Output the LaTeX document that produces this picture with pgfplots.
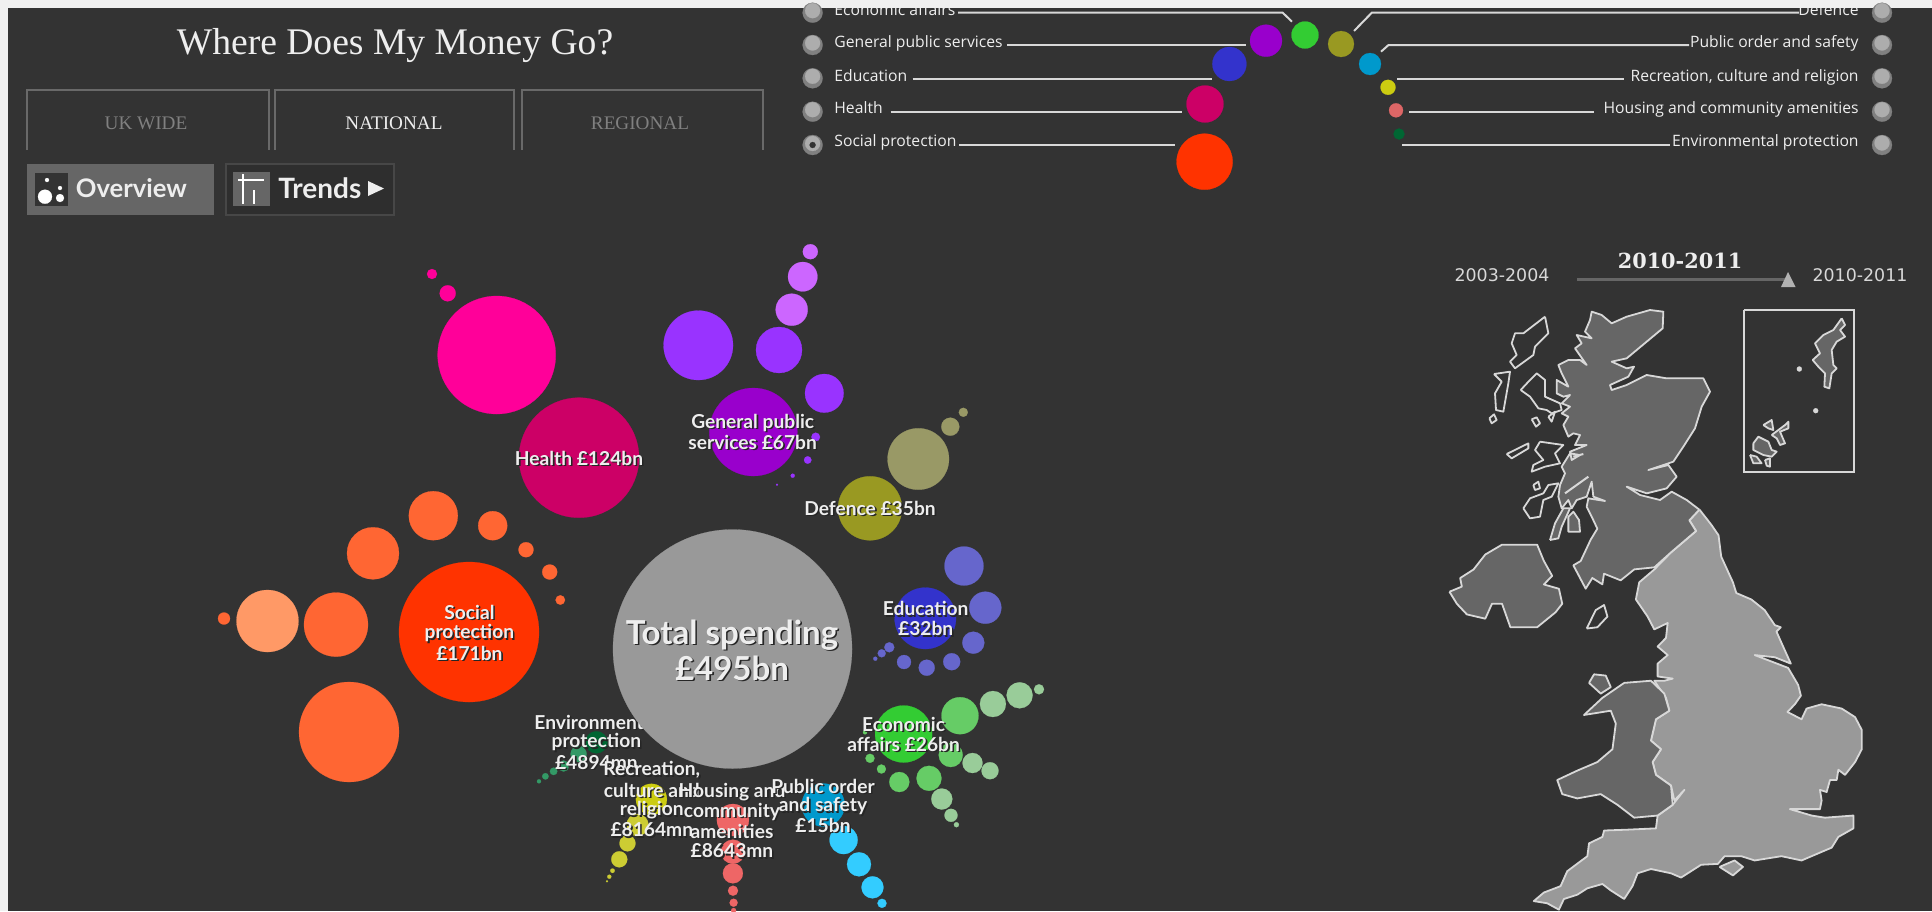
\documentclass[border=0pt]{standalone}
\usepackage{pgfplots}
\usepackage{fontspec}
\usetikzlibrary{plotmarks}
\pgfplotsset{compat=1.18}
\setmainfont{Liberation Serif}
\newfontfamily\gill{Lato}
\newfontfamily\leg{Open Sans}
\newfontfamily\dvs{DejaVu Sans}
\newfontfamily\dvsf{DejaVu Serif}
\definecolor{bg}{HTML}{333333}
\definecolor{strip}{HTML}{F0F0F0}
\definecolor{txt}{HTML}{EEEEEE}
\definecolor{shad}{HTML}{262626}
\definecolor{mapl}{HTML}{D8D8D8}
\definecolor{C1}{HTML}{33CC33}
\definecolor{C2}{HTML}{999922}
\definecolor{C3}{HTML}{9900CC}
\definecolor{C4}{HTML}{0099CC}
\definecolor{C5}{HTML}{CCCC11}
\definecolor{C6}{HTML}{DD6666}
\definecolor{C7}{HTML}{006633}
\definecolor{C8}{HTML}{3333CC}
\definecolor{C9}{HTML}{CC0066}
\definecolor{C10}{HTML}{FF3300}
\definecolor{H2}{HTML}{FF0099}
\definecolor{S2}{HTML}{FF6633}
\definecolor{S3}{HTML}{FF9966}
\definecolor{G2}{HTML}{9933FF}
\definecolor{G3}{HTML}{CC66FF}
\definecolor{D2}{HTML}{999966}
\definecolor{E2}{HTML}{6666CC}
\definecolor{F2}{HTML}{66CC66}
\definecolor{F3}{HTML}{99CC99}
\definecolor{P2}{HTML}{33CCFF}
\definecolor{A2}{HTML}{EE6666}
\definecolor{R2}{HTML}{CCCC33}
\definecolor{V2}{HTML}{339966}
\definecolor{M1}{HTML}{999999}
\definecolor{M2}{HTML}{666666}
\newcommand{\lbl}[4]{%
  \addplot[only marks,mark=text,text mark={\gill\bfseries\fontsize{#3}{#3}\selectfont #4},text mark as node=true,
    text mark style={anchor=center,inner sep=0pt,text=shad,xshift=0.8pt,yshift=-0.8pt}] coordinates {(#1,#2)};
  \addplot[only marks,mark=text,text mark={\gill\bfseries\fontsize{#3}{#3}\selectfont #4},text mark as node=true,
    text mark style={anchor=center,inner sep=0pt,text=txt}] coordinates {(#1,#2)};}
\newcommand{\legL}[3]{\node[anchor=west,inner sep=0pt,text=txt,text height=6pt,text depth=2pt] at (axis cs:#1,#2-0.5) {\leg\fontsize{7.85}{7.85}\selectfont #3};}
\newcommand{\legR}[3]{\node[anchor=east,inner sep=0pt,text=txt,text height=6pt,text depth=2pt] at (axis cs:#1,#2-0.5) {\leg\fontsize{7.85}{7.85}\selectfont #3};}
\pgfplotsset{
  bub/.style={scatter,only marks,mark=*,
    scatter/use mapped color={draw=#1,fill=#1,line width=0.1pt},
    visualization depends on={\thisrow{r}/2 \as \rad},
    scatter/@pre marker code/.append style={/tikz/mark size=\rad}},
  table/mapt/.style={header=false,row sep=\\,x expr=1420+\thisrowno{0}/2.988,y expr=240+\thisrowno{1}/2.337},
  table/scot/.style={header=false,row sep=\\,x expr=1480+\thisrowno{0}/3,y expr=300+\thisrowno{1}/3},
  table/ins/.style={header=false,row sep=\\,x expr=1730+\thisrowno{0}/3,y expr=300+\thisrowno{1}/3},
  mp/.style={fill=#1,draw=mapl,line width=0.9pt,line join=round,no markers},
  ln/.style={draw=#1,line width=1pt,no markers},
}
\begin{document}
\begin{tikzpicture}
\fill[strip] (0,0) rectangle (966pt,455.5pt);
\fill[bg] (4pt,0pt) rectangle (966pt,451.5pt);
\useasboundingbox (0,0) rectangle (966pt,455.5pt);
\begin{axis}[at={(4pt,0pt)},anchor=south west,scale only axis,width=962pt,height=451.5pt,xmin=8,xmax=1932,ymin=8,ymax=911,
  y dir=reverse,hide axis,clip=true]

% title and tabs
\node[text=txt,inner sep=0pt] at (axis cs:395,45.5) {\fontsize{18.8}{18.8}\selectfont Where Does My Money Go?};
\addplot[ln=gray!70!bg] coordinates {(26.5,150)(26.5,89.5)(269,89.5)(269,150)};
\addplot[ln=gray!70!bg] coordinates {(274.5,150)(274.5,89.5)(514,89.5)(514,150)};
\addplot[ln=gray!70!bg] coordinates {(521.5,150)(521.5,89.5)(763,89.5)(763,150)};
\node[text=gray,inner sep=0pt] at (axis cs:146,123.5) {\fontsize{9.6}{9.6}\selectfont UK WIDE};
\node[text=txt,inner sep=0pt] at (axis cs:394,123.5) {\fontsize{9.6}{9.6}\selectfont NATIONAL};
\node[text=gray,inner sep=0pt] at (axis cs:640,123.5) {\fontsize{9.6}{9.6}\selectfont REGIONAL};

% buttons
\fill[fill=black!60!white] (axis cs:26.5,164) rectangle (axis cs:214,215);
\fill[bg] (axis cs:34.7,172.7) rectangle (axis cs:68,206);
\addplot[bub=white] table[row sep=\\] {x y r\\ 45 196.7 7\\ 60 198 4\\ 60 188 2\\ 47 180 2\\};
\node[text=txt,anchor=west,inner sep=0pt] at (axis cs:75.5,188) {\gill\bfseries\fontsize{12.8}{12.8}\selectfont Overview};
\draw[black!72!white,fill=black!82!white,line width=0.8pt] (axis cs:226,164) rectangle (axis cs:394,215);
\fill[black!60!white] (axis cs:233,172) rectangle (axis cs:270,206);
\addplot[ln=white] coordinates {(238,180)(264,180)};
\addplot[ln=white] coordinates {(243,174)(243,204)};
\addplot[ln=white] coordinates {(254,190)(254,204)};
\node[text=txt,anchor=west,inner sep=0pt] at (axis cs:278,188) {\gill\bfseries\fontsize{14}{14}\selectfont Trends};
\addplot[fill=txt,draw=none,no markers] coordinates {(368,181)(384,188.5)(368,196)(368,181)};

% selector lines
\addplot[ln=mapl] coordinates {(958,12.7)(1282.7,12.7)(1292,21.7)};
\addplot[ln=mapl] coordinates {(1006.8,45)(1246,45)};
\addplot[ln=mapl] coordinates {(912.6,79)(1212,79)};
\addplot[ln=mapl] coordinates {(890.7,111.7)(1182,111.7)};
\addplot[ln=mapl] coordinates {(959,145)(1175,145)};
\addplot[ln=mapl] coordinates {(1798.8,12.7)(1371.8,12.7)(1354,31)};
\addplot[ln=mapl] coordinates {(1689,45)(1388.5,45)(1381,51.7)};
\addplot[ln=mapl] coordinates {(1623.6,79)(1397,79)};
\addplot[ln=mapl] coordinates {(1594,111.7)(1409,111.7)};
\addplot[ln=mapl] coordinates {(1669.6,145)(1401.7,145)};
% selector radio buttons
\addplot[bub=black!50!white] table[row sep=\\] {x y r\\
812.6 12.7 10\\ 812.6 45 10\\ 812.6 78.3 10\\ 812.6 111.7 10\\ 812.6 145 10\\
1882 12.7 10\\ 1882 45 10\\ 1882 78.3 10\\ 1882 111.7 10\\ 1882 145 10\\};
\addplot[bub=black!32!white] table[row sep=\\] {x y r\\
812.6 10.7 7.5\\ 812.6 43 7.5\\ 812.6 76.3 7.5\\ 812.6 109.7 7.5\\ 812.6 143.5 7.5\\
1882 10.7 7.5\\ 1882 43 7.5\\ 1882 76.3 7.5\\ 1882 109.7 7.5\\ 1882 143 7.5\\};
\addplot[bub=bg] table[row sep=\\] {x y r\\ 812.6 145 3\\};
% selector labels
\legL{834}{11.7}{Economic affairs}
\legL{834}{44.3}{General public services}
\legL{834}{77.7}{Education}
\legL{834}{110}{Health}
\legL{834}{143}{Social protection}
\legR{1859}{11.7}{Defence}
\legR{1859}{44.3}{Public order and safety}
\legR{1859}{77.7}{Recreation, culture and religion}
\legR{1859}{110}{Housing and community amenities}
\legR{1859}{143}{Environmental protection}
% selector bubbles
\addplot[bub=C3] table[row sep=\\] {x y r\\ 1266 40.7 16\\};
\addplot[bub=C1] table[row sep=\\] {x y r\\ 1305 35 13.5\\};
\addplot[bub=C2] table[row sep=\\] {x y r\\ 1341 44 13\\};
\addplot[bub=C4] table[row sep=\\] {x y r\\ 1370 64 11\\};
\addplot[bub=C5] table[row sep=\\] {x y r\\ 1388 87.3 7.5\\};
\addplot[bub=C6] table[row sep=\\] {x y r\\ 1396 110.3 7\\};
\addplot[bub=C7] table[row sep=\\] {x y r\\ 1399 134 5.5\\};
\addplot[bub=C8] table[row sep=\\] {x y r\\ 1229.4 64 17\\};
\addplot[bub=C9] table[row sep=\\] {x y r\\ 1205 104 18.5\\};
\addplot[bub=C10] table[row sep=\\] {x y r\\ 1204.6 161.7 28\\};

% slider
\node[text=txt,inner sep=0pt] at (axis cs:1680,260.5) {\dvsf\bfseries\fontsize{10.4}{10.4}\selectfont 2010-2011};
\node[text=mapl,inner sep=0pt] at (axis cs:1502,275.5) {\dvs\fontsize{8.7}{8.7}\selectfont 2003-2004};
\node[text=mapl,inner sep=0pt] at (axis cs:1860,275.5) {\dvs\fontsize{8.7}{8.7}\selectfont 2010-2011};
\addplot[draw=black!60!white,line width=1.5pt,no markers] coordinates {(1577,279.4)(1788,279.4)};
\addplot[fill=black!30!white,draw=none,no markers] coordinates {(1788,272)(1795.5,287)(1781,287)(1788,272)};

% map: England
\addplot[mp=M1] table[mapt] {835 630\\870 665\\892 690\\900 740\\935 800\\945 825\\990 840\\1030 865\\1060 900\\1078 905\\1065 915\\1085 950\\1108 990\\1060 975\\1000 970\\1050 985\\1100 1000\\1130 1040\\1138 1065\\1120 1085\\1098 1103\\1140 1120\\1155 1095\\1200 1085\\1260 1095\\1300 1115\\1320 1145\\1320 1190\\1300 1220\\1270 1250\\1250 1238\\1245 1262\\1225 1262\\1215 1290\\1195 1285\\1200 1310\\1195 1330\\1105 1330\\1170 1345\\1210 1350\\1295 1345\\1295 1375\\1250 1395\\1230 1420\\1140 1450\\1080 1440\\1000 1450\\960 1440\\910 1440\\890 1458\\840 1460\\780 1490\\750 1480\\690 1470\\650 1480\\635 1510\\610 1540\\570 1520\\545 1505\\500 1515\\470 1530\\430 1540\\415 1565\\380 1550\\340 1545\\370 1525\\420 1510\\440 1475\\500 1440\\505 1410\\545 1395\\550 1380\\620 1378\\705 1375\\710 1345\\755 1320\\790 1285\\760 1310\\750 1275\\705 1250\\695 1220\\720 1190\\690 1170\\705 1120\\745 1100\\735 1070\\700 1030\\730 1030\\755 1025\\710 1020\\710 990\\740 970\\710 950\\735 930\\740 895\\700 910\\680 880\\645 840\\655 800\\700 770\\750 730\\825 680\\805 655\\835 630\\};
% Scotland
\addplot[mp=M2] table[scot] {658 629\\628 661\\648 693\\573 757\\523 802\\463 808\\422 841\\372 821\\367 853\\337 834\\317 866\\297 828\\280 796\\302 783\\332 719\\352 686\\335 650\\320 620\\325 595\\375 603\\340 590\\335 545\\320 590\\290 600\\275 625\\265 600\\245 625\\235 590\\240 555\\255 520\\245 500\\270 460\\300 465\\275 480\\270 455\\320 435\\285 435\\300 405\\280 400\\265 410\\250 375\\265 350\\245 340\\270 320\\245 310\\270 285\\250 290\\230 280\\230 240\\265 260\\245 220\\235 195\\265 180\\300 180\\320 195\\285 145\\305 130\\290 105\\335 115\\315 95\\330 60\\335 35\\365 45\\395 70\\440 50\\510 30\\550 35\\548 85\\500 125\\440 175\\395 185\\440 205\\462 200\\445 230\\390 255\\395 270\\440 255\\500 225\\560 235\\670 235\\690 275\\665 320\\645 385\\610 440\\580 485\\505 510\\565 495\\590 530\\560 565\\500 580\\440 560\\480 585\\540 600\\575 575\\620 600\\658 629\\};
\addplot[ln=mapl] table[scot] {255 580\\325 530\\};
\addplot[ln=mapl] table[scot] {280 470\\310 462\\};
\addplot[mp=bg] table[scot] {195 50\\205 100\\165 140\\160 165\\105 205\\90 185\\110 165\\95 130\\105 100\\130 100\\195 50\\};
\addplot[mp=bg] table[scot] {42 222\\90 215\\85 250\\70 335\\48 330\\45 280\\65 245\\42 222\\};
\addplot[mp=bg] table[scot] {28 355\\42 343\\50 360\\35 370\\28 355\\};
\addplot[mp=bg] table[scot] {122 270\\150 240\\170 220\\195 240\\195 290\\240 310\\245 330\\215 340\\200 330\\175 325\\150 290\\122 270\\};
\addplot[mp=bg] table[scot] {205 350\\225 335\\215 365\\205 350\\};
\addplot[mp=bg] table[scot] {155 358\\170 352\\180 370\\168 380\\155 358\\};
\addplot[mp=bg] table[scot] {80 462\\145 430\\145 445\\95 475\\80 462\\};
\addplot[mp=bg] table[scot] {180 425\\250 435\\225 460\\240 490\\195 500\\155 515\\160 495\\190 480\\165 450\\180 425\\};
\addplot[mp=bg] table[scot] {160 555\\175 545\\180 565\\165 570\\160 555\\};
\addplot[mp=bg] table[scot] {130 625\\150 595\\190 580\\205 555\\235 550\\215 590\\190 600\\180 650\\150 655\\130 625\\};
\addplot[mp=M2] table[scot] {210 720\\225 670\\250 625\\270 625\\245 680\\235 715\\210 720\\};
\addplot[mp=M2] table[scot] {265 650\\280 635\\297 660\\300 695\\265 695\\265 650\\};
% Northern Ireland
\addplot[mp=M2] table[mapt] {88 822\\125 810\\120 790\\160 770\\195 735\\245 712\\350 712\\370 750\\395 785\\370 805\\415 815\\425 850\\405 870\\350 905\\270 905\\245 850\\215 850\\195 885\\140 875\\110 850\\88 822\\};
% Isle of Man
\addplot[mp=bg] table[mapt] {498 908\\525 865\\550 853\\560 880\\530 905\\498 908\\};
% Anglesey
\addplot[mp=M2] table[mapt] {505 1035\\520 1015\\555 1018\\570 1045\\540 1060\\505 1035\\};
% Wales
\addplot[mp=M2] table[mapt] {610 1035\\690 1030\\730 1060\\745 1100\\705 1120\\690 1170\\720 1190\\695 1220\\705 1250\\750 1275\\755 1320\\710 1345\\640 1350\\590 1320\\540 1295\\470 1305\\425 1295\\410 1262\\470 1240\\530 1220\\575 1190\\585 1130\\570 1100\\490 1110\\545 1070\\610 1035\\};
% Isle of Wight
\addplot[mp=M1] table[mapt] {895 1465\\940 1450\\965 1465\\935 1485\\895 1465\\};
% inset
\addplot[fill=none,draw=mapl,line width=0.9pt,no markers] table[ins] {42 30\\372 30\\372 517\\42 517\\42 30\\};
\addplot[mp=M2] table[ins] {335 55\\345 75\\330 90\\345 110\\320 125\\305 150\\310 195\\320 205\\305 220\\298 265\\283 260\\285 220\\265 200\\248 180\\270 160\\255 130\\280 105\\310 90\\335 55\\};
\addplot[mp=M2] table[ins] {70 430\\85 410\\115 425\\125 450\\140 455\\125 470\\100 465\\70 450\\70 430\\};
\addplot[mp=M2] table[ins] {60 465\\80 470\\95 490\\70 490\\60 465\\};
\addplot[mp=M2] table[ins] {105 480\\120 475\\120 500\\110 497\\105 480\\};
\addplot[mp=M2] table[ins] {100 375\\125 360\\130 390\\115 385\\100 375\\};
\addplot[mp=M2] table[ins] {125 405\\165 375\\175 365\\175 385\\150 395\\165 430\\150 435\\140 415\\125 405\\};
\addplot[bub=mapl] table[row sep=\\] {x y r\\ 1799.3 369 2.5\\ 1815.7 410.7 2.5\\};

% Health
\addplot[bub=H2] table[row sep=\\] {x y r\\ 496.7 355 59\\ 447.7 293.3 8\\ 432 274 5\\};
\addplot[bub=C9] table[row sep=\\] {x y r\\ 579 457.7 60\\};
% Social protection
\addplot[bub=S2] table[row sep=\\] {x y r\\ 433.3 515.7 24.5\\ 492.7 525.7 14.5\\ 526 549.7 7.5\\ 549.7 572 7.5\\ 560.3 600 4.7\\ 373 553.3 26\\ 336 624.6 32\\ 224 618.5 6\\ 349 732 50\\};
\addplot[bub=S3] table[row sep=\\] {x y r\\ 267.5 621 31\\};
\addplot[bub=C10] table[row sep=\\] {x y r\\ 469 632 70\\};
% General public services
\addplot[bub=G2] table[row sep=\\] {x y r\\ 698.3 345.3 34.7\\ 779 350 23\\ 824.3 393.3 19.3\\ 815.7 437 4.3\\ 807.7 460 3.7\\ 792.7 475.7 2\\ 777 484.7 1\\};
\addplot[bub=G3] table[row sep=\\] {x y r\\ 791.7 309.7 16\\ 802.7 276.7 14.7\\ 810.3 251.7 7.5\\};
\addplot[bub=C3] table[row sep=\\] {x y r\\ 753.3 432 44\\};
% Defence
\addplot[bub=D2] table[row sep=\\] {x y r\\ 918.3 459 30.7\\ 950.3 426.7 9\\ 963.3 412.3 4.5\\};
\addplot[bub=C2] table[row sep=\\] {x y r\\ 870 508.3 32\\};
% Education
\addplot[bub=E2] table[row sep=\\] {x y r\\ 964 566 19.5\\ 985.3 607.7 16\\ 973.3 642.7 11\\ 951.7 661.7 8.5\\ 926.7 667.7 8\\ 904 662 7\\ 889.3 647.3 5\\ 881.7 653.3 4\\ 875.3 658.7 2\\};
\addplot[bub=C8] table[row sep=\\] {x y r\\ 925.3 618.3 30.7\\};
% Economic affairs
\addplot[bub=F2] table[row sep=\\] {x y r\\ 960 715.7 18.5\\ 950.7 755 12\\ 929 778.3 12.5\\ 899.3 782 10\\ 881.4 769 4.5\\ 870 758.3 4.5\\ 865 732.3 2\\};
\addplot[bub=F3] table[row sep=\\] {x y r\\ 992.9 704 13\\ 1019.6 695.3 13\\ 1039 689.3 5\\ 972.5 763 10\\ 990 770.7 8.5\\ 941.8 799 10.5\\ 951 815.3 6.5\\ 956.4 824.7 2.5\\};
\addplot[bub=C1] table[row sep=\\] {x y r\\ 903.6 734 28.5\\};
% Public order
\addplot[bub=P2] table[row sep=\\] {x y r\\ 843.6 840 14\\ 859 864.3 12\\ 872.5 887.3 11\\ 882 903.3 4.5\\ 888.6 911.7 3\\};
\addplot[bub=C4] table[row sep=\\] {x y r\\ 823.2 805 21.5\\};
% Housing
\addplot[bub=A2] table[row sep=\\] {x y r\\ 732.9 851.7 12\\ 732.9 873.3 10\\ 733 890.7 5\\ 733.6 902.7 4\\ 733.6 910.5 2.5\\};
\addplot[bub=A2] table[row sep=\\] {x y r\\ 732.9 820 16\\};
% Recreation
\addplot[bub=R2] table[row sep=\\] {x y r\\ 637.5 825 11\\ 627.5 843.3 8\\ 619.3 859.3 8\\ 612.5 870.7 2.2\\ 609.3 876.7 2\\ 607 881.3 1\\};
\addplot[bub=C5] table[row sep=\\] {x y r\\ 651.4 799.3 15.5\\};
% Environmental, whose label the Total circle covers
\addplot[bub=V2] table[row sep=\\] {x y r\\ 578.6 754 8\\ 563.6 766 5.5\\ 553.6 771.3 3.7\\ 545.4 776.3 3.2\\ 539 781.3 2\\};
\addplot[bub=C7] table[row sep=\\] {x y r\\ 596.4 742.3 11\\};
\lbl{596.4}{722.3}{9.6}{Environmental}
\lbl{596.4}{742.3}{9.6}{protection}
\lbl{596.4}{762.3}{9.6}{£4894mn}
% Total
\addplot[bub=black!40!white] table[row sep=\\] {x y r\\ 732.5 649 119.5\\};

% labels over all circles
\lbl{732}{635}{16.5}{Total spending}
\lbl{732}{668}{16.5}{£495bn}
\lbl{579}{458.3}{9.6}{Health £124bn}
\lbl{469.4}{612}{9.6}{Social}
\lbl{469.4}{633}{9.6}{protection}
\lbl{469.4}{653}{9.6}{£171bn}
\lbl{752.7}{422.7}{9.6}{General public}
\lbl{752.7}{442.3}{9.6}{services £67bn}
\lbl{870}{508.3}{9.6}{Defence £35bn}
\lbl{925.7}{608.7}{9.6}{Education}
\lbl{925.7}{628.7}{9.6}{£32bn}
\lbl{903.6}{724.3}{9.6}{Economic}
\lbl{903.6}{744.3}{9.6}{affairs £26bn}
\lbl{651.8}{770}{9.6}{Recreation,}
\lbl{651.8}{790}{9.6}{culture and}
\lbl{651.8}{810}{9.6}{religion}
\lbl{651.8}{830}{9.6}{£8164mn}
\lbl{732}{791.7}{9.6}{Housing and}
\lbl{732}{811.7}{9.6}{community}
\lbl{732}{831}{9.6}{amenities}
\lbl{732}{851}{9.6}{£8643mn}
\lbl{823}{786}{9.6}{Public order}
\lbl{823}{806}{9.6}{and safety}
\lbl{823}{825.3}{9.6}{£15bn}
\end{axis}
\end{tikzpicture}
\end{document}
